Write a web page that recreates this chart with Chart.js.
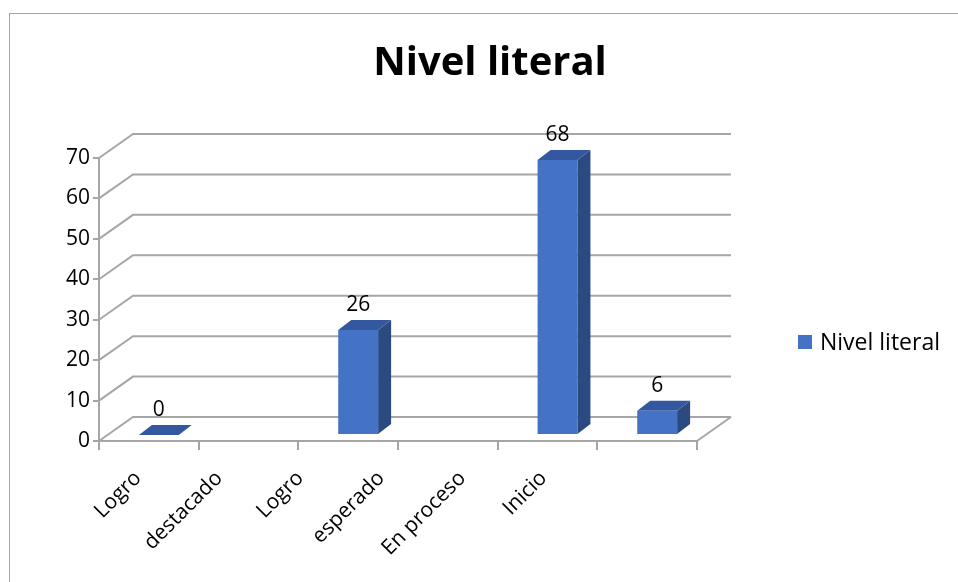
<!DOCTYPE html>
<html>
<head>
<meta charset="utf-8">
<title>Nivel literal</title>
<script src="https://cdn.jsdelivr.net/npm/chart.js@4.4.1/dist/chart.umd.min.js"></script>
<style>
  html, body { margin: 0; padding: 0; background: #fff; overflow: hidden; }
  #wrap { position: relative; width: 958px; height: 582px; }
  #frame { position: absolute; left: 9px; top: 13px; width: 1000px; height: 1000px; border: 1px solid #a6a6a6; }
  canvas { position: absolute; left: 0; top: 0; }
</style>
</head>
<body>
<div id="wrap">
  <div id="frame"></div>
  <canvas id="chart" width="958" height="582"></canvas>
</div>
<script>
// Data
const categories = ['Logro', 'destacado', 'Logro', 'esperado', 'En proceso', 'Inicio'];
const values = [0, null, 26, null, 68, 6];
const seriesName = 'Nivel literal';
const yTicks = [0, 10, 20, 30, 40, 50, 60, 70];

const FONT = "'Open Sans', 'Liberation Sans', sans-serif";
const GRID = '#a6a6a6';
const BLUE = '#4472c4';
const BLUE_SIDE = '#2c4a82';
const BLUE_TOP = '#3458a0';
const DEPTH = { x: 34, y: -24 };      // back wall offset
const BAR_SHIFT = { x: 10, y: -6 };   // bars sit a bit behind the front plane
const BAR_DEPTH = { x: 13, y: -10 };  // thickness of each bar

// label axis: labels sit a little tighter than the categories
const LABEL_STEP = 81.1;
const LABEL_START = 138;

// back walls, bar sides and tops
const wall3d = {
    id: 'wall3d',
    beforeDatasetsDraw(chart) {
        const { ctx, chartArea: a, scales: { y } } = chart;
        ctx.save();
        ctx.strokeStyle = GRID;
        ctx.lineWidth = 2;
        yTicks.forEach(v => {
            const py = y.getPixelForValue(v);
            ctx.beginPath();
            ctx.moveTo(a.left, py);
            ctx.lineTo(a.left + DEPTH.x, py + DEPTH.y);
            ctx.lineTo(a.right + DEPTH.x, py + DEPTH.y);
            ctx.stroke();
        });
        const p0 = y.getPixelForValue(0);
        ctx.beginPath();
        ctx.moveTo(a.right, p0);
        ctx.lineTo(a.right + DEPTH.x, p0 + DEPTH.y);
        ctx.stroke();

        // sides and tops of the bars
        const meta = chart.getDatasetMeta(0);
        meta.data.forEach((el, i) => {
            if (values[i] == null) return;
            const x1 = el.x - el.width / 2 + BAR_SHIFT.x;
            const x2 = el.x + el.width / 2 + BAR_SHIFT.x;
            const yt = el.y + BAR_SHIFT.y;
            const yb = el.base + BAR_SHIFT.y;
            ctx.fillStyle = BLUE_SIDE;
            ctx.beginPath();
            ctx.moveTo(x2, yt);
            ctx.lineTo(x2 + BAR_DEPTH.x, yt + BAR_DEPTH.y);
            ctx.lineTo(x2 + BAR_DEPTH.x, yb + BAR_DEPTH.y);
            ctx.lineTo(x2, yb);
            ctx.closePath();
            ctx.fill();
            ctx.fillStyle = BLUE_TOP;
            ctx.beginPath();
            ctx.moveTo(x1, yt);
            ctx.lineTo(x2, yt);
            ctx.lineTo(x2 + BAR_DEPTH.x, yt + BAR_DEPTH.y);
            ctx.lineTo(x1 + BAR_DEPTH.x, yt + BAR_DEPTH.y);
            ctx.closePath();
            ctx.fill();
        });
        ctx.restore();

        ctx.save();
        ctx.translate(BAR_SHIFT.x, BAR_SHIFT.y);
    },
    afterDatasetsDraw(chart) {
        const { ctx } = chart;
        ctx.restore();

        // value labels
        const meta = chart.getDatasetMeta(0);
        ctx.save();
        ctx.fillStyle = '#000';
        ctx.font = '21px ' + FONT;
        ctx.textAlign = 'center';
        ctx.textBaseline = 'alphabetic';
        meta.data.forEach((el, i) => {
            if (values[i] == null) return;
            ctx.fillText(String(values[i]), el.x + BAR_SHIFT.x, el.y + BAR_SHIFT.y + BAR_DEPTH.y - 9);
        });
        ctx.restore();
    }
};

// legend on the right
const sideLegend = {
    id: 'sideLegend',
    afterDraw(chart) {
        const { ctx, chartArea: a } = chart;
        const ds = chart.data.datasets[0];
        const x = a.right + 101;
        const yc = a.bottom - 99;
        ctx.save();
        ctx.fillStyle = ds.backgroundColor;
        ctx.fillRect(x, yc - 7, 14, 14);
        ctx.fillStyle = '#000';
        ctx.font = '23px ' + FONT;
        ctx.textBaseline = 'middle';
        ctx.fillText(ds.label, x + 22, yc + 1);
        ctx.restore();
    }
};

const ctx = document.getElementById('chart').getContext('2d');
new Chart(ctx, {
    type: 'bar',
    data: {
        labels: categories,
        datasets: [{
            label: seriesName,
            data: values,
            backgroundColor: BLUE,
            categoryPercentage: 1,
            barPercentage: 0.4,
            clip: false
        }]
    },
    options: {
        responsive: false,
        animation: false,
        layout: { padding: { left: 40, right: 18, top: 0, bottom: 0 } },
        plugins: {
            legend: { display: false },
            tooltip: { enabled: false },
            title: {
                display: true,
                text: 'Nivel literal',
                color: '#000',
                font: { family: FONT, size: 40, weight: 'bold' },
                padding: { top: 40, bottom: 70 }
            }
        },
        scales: {
            x: {
                position: 'bottom',
                weight: 0,
                grid: { drawOnChartArea: false, tickLength: 9, color: GRID, lineWidth: 2, offset: true },
                border: { color: GRID, width: 2 },
                ticks: { display: false },
                afterFit(s) { s.height = 9; }
            },
            xl: {
                type: 'linear',
                position: 'bottom',
                weight: 1,
                offset: false,
                min: -(LABEL_START - 99) / LABEL_STEP,
                max: -(LABEL_START - 99) / LABEL_STEP + 598 / LABEL_STEP,
                grid: { display: false, drawTicks: false, offset: false },
                border: { display: false },
                afterBuildTicks(s) { s.ticks = categories.map((c, i) => ({ value: i })); },
                ticks: {
                    autoSkip: false,
                    minRotation: 45,
                    maxRotation: 45,
                    padding: 16,
                    color: '#000',
                    font: { family: FONT, size: 21 },
                    callback: v => categories[v]
                },
                afterFit(s) { s.height = 132; }
            },
            y: {
                min: 0,
                max: 70,
                ticks: { stepSize: 10, color: '#000', font: { family: FONT, size: 21 }, padding: 3 },
                grid: { drawOnChartArea: false, tickLength: 6, color: GRID, lineWidth: 2 },
                border: { color: GRID, width: 2 },
                afterFit(s) { s.width = 59; }
            },
            ySpace: {
                position: 'right',
                grid: { display: false },
                ticks: { display: false },
                border: { display: false },
                afterFit(s) { s.width = 243; }
            }
        }
    },
    plugins: [wall3d, sideLegend]
});
</script>
</body>
</html>
